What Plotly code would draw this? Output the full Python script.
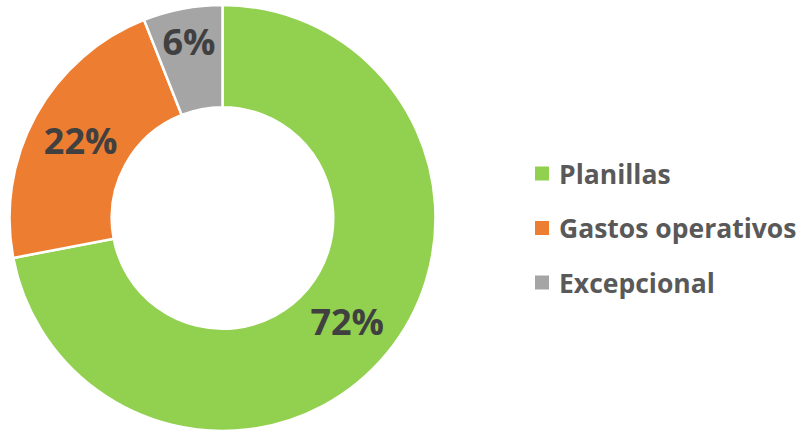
import plotly.graph_objects as go

labels = ["Planillas", "Gastos operativos", "Excepcional"]
values = [72, 22, 6]
colors = ["#92D050", "#ED7D31", "#A5A5A5"]

W, H = 802, 432
FONT = "Open Sans"

fig = go.Figure(go.Pie(
    labels=labels,
    values=values,
    hole=0.52,
    sort=False,
    direction="clockwise",
    rotation=0,
    marker=dict(colors=colors, line=dict(color="white", width=2.5)),
    texttemplate="%{percent:.0%}",
    textposition="inside",
    insidetextorientation="horizontal",
    textfont=dict(family=FONT, size=36, color="#404040", weight="bold"),
    showlegend=False,
    domain=dict(x=[9.5 / W, 435.5 / W], y=[1 - 431 / H, 1 - 5 / H]),
    hoverinfo="label+percent",
))

# Manual legend built from the same arrays
leg_top = 173.5
leg_gap = 54.5
shapes = []
annotations = []
for i, (lab, col) in enumerate(zip(labels, colors)):
    yc = leg_top + i * leg_gap
    shapes.append(dict(type="rect", xref="paper", yref="paper",
                       x0=535 / W, x1=549 / W,
                       y0=1 - (yc + 7) / H, y1=1 - (yc - 7) / H,
                       fillcolor=col, line=dict(width=0)))
    annotations.append(dict(text=lab, xref="paper", yref="paper",
                            x=557 / W, y=1 - yc / H, xanchor="left", yanchor="middle",
                            showarrow=False,
                            font=dict(family=FONT, size=26.5, color="#595959", weight="bold")))

fig.update_layout(
    width=W, height=H,
    margin=dict(l=0, r=0, t=0, b=0),
    paper_bgcolor="white",
    plot_bgcolor="white",
    uniformtext=dict(minsize=36, mode="show"),
    shapes=shapes,
    annotations=annotations,
)

fig.write_html("out.html")
